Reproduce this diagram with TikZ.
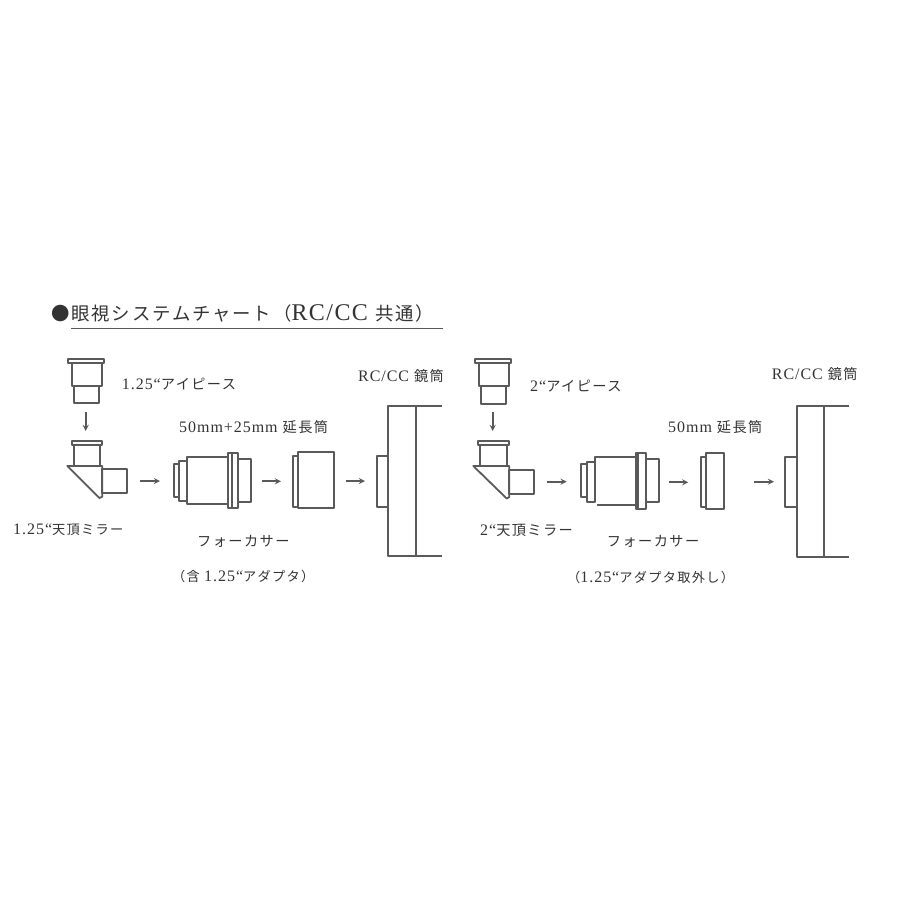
\documentclass[tikz,border=0pt]{standalone}
\usepackage{fontspec}
\setmainfont{Liberation Serif}[LetterSpace=6]
\newfontfamily\cjk{Noto Sans CJK JP}[LetterSpace=10]
\newcommand{\jp}[1]{{\fontsize{14.2}{16}\cjk #1}}
\newcommand{\jps}[1]{{\fontsize{13.2}{16}\cjk #1}}
\newcommand{\jpt}[1]{{\fontsize{18.4}{24}\cjk #1}}
\definecolor{inkgray}{HTML}{5A5A5A}
\definecolor{txtgray}{HTML}{333333}
\tikzset{
  part/.style={draw=inkgray, line width=1.8pt, line join=round},
  flow/.style={draw=inkgray, line width=1.7pt, -stealth},
  lbl/.style={anchor=west, inner sep=0pt, text=txtgray, font=\fontsize{16}{18}\selectfont},
  ttl/.style={anchor=west, inner sep=0pt, text=black!80, font=\fontsize{24}{28}\selectfont}
}
\begin{document}
\begin{tikzpicture}[x=1pt, y=-1pt]
\useasboundingbox (0,0) rectangle (900,900);

\node[ttl] (title) at (51,313) {\jpt{●眼視システムチャート（}RC/CC \jpt{共通）}};
\draw[line width=1pt, inkgray] (71,328) -- (443,328);

% left system
\draw[part] (68.3,359) rectangle (104,363.3);
\draw[part] (72.3,363.3) rectangle (101.7,386);
\draw[part] (74.3,386) rectangle (99,403);
\draw[part] (71.7,440.7) rectangle (102.3,445);
\draw[part] (74,445) rectangle (100,466);
\draw[part] (67.3,466) -- (102.3,466) -- (102.3,496.7) -- (99.3,498) -- cycle;
\draw[part] (102.3,469.3) rectangle (127.3,493.3);
% focuser
\draw[part] (174,464) rectangle (179.3,497.3);
\draw[part] (179.3,461) rectangle (187.3,500.7);
\draw[part] (187.3,456.7) rectangle (228.3,504.3);
\draw[part] (228.3,452.7) rectangle (238.3,508.3) (231.7,452.7) -- (231.7,508.3);
\draw[part] (238.3,459) rectangle (251,502.3);
% extension
\draw[part] (292.7,455.7) rectangle (298.3,506.7);
\draw[part] (298.3,452.3) rectangle (334.3,508.3);
% scope tube
\draw[part] (376.7,456) rectangle (388.3,506.7);
\begin{scope}[shift={(388.3,405.7)}]
\draw[part] (53.4,0) -- (0,0) -- (0,150) -- (53.4,150) (27.7,0) -- (27.7,150);
\end{scope}

% right system
\draw[part] (475,359) rectangle (511,363.3);
\draw[part] (479,363.3) rectangle (509,386);
\draw[part] (481,386) rectangle (506,404);
\draw[part] (478.3,441) rectangle (509,445.3);
\draw[part] (480,445.3) rectangle (506.7,466);
\draw[part] (473.3,466) -- (509.3,466) -- (509.3,497) -- (506.7,498.5) -- cycle;
\draw[part] (509.3,470) rectangle (534.3,494);
% focuser
\draw[part] (581,464) rectangle (587.3,497.3);
\draw[part] (587.3,461.7) rectangle (595,501.7);
\draw[part] (635.7,457.3) -- (595,457.3) -- (595,461.7) (596.7,505) -- (635.7,505);
\draw[part] (635.7,453.3) rectangle (646,509.3) (638,453.3) -- (638,509.3);
\draw[part] (646,459.3) rectangle (659,502.3);
% extension
\draw[part] (701,456.7) rectangle (706.3,506.7);
\draw[part] (706.3,452.7) rectangle (724,509);
% scope tube
\draw[part] (785,456.7) rectangle (796.7,507.3);
\begin{scope}[shift={(796.7,405.7)}]
\draw[part] (52.6,0) -- (0,0) -- (0,151) -- (52.6,151) (27.6,0) -- (27.6,151);
\end{scope}

\foreach \name/\xa/\ya/\xb/\yb in {
  la/85.7/412/85.7/431, lb/140/481/160/481, lc/261.7/481.3/281/481.3, ld/346/481/365/481,
  ra/492.7/412/492.7/431, rb/546.7/481.7/566.7/481.7, rc/669.3/482.3/688.3/482.3, rd/754/481.7/774/481.7}{
  \coordinate (\name s) at (\xa,\ya);
  \coordinate (\name e) at (\xb,\yb);
  \draw[flow] (\name s) -- (\name e);
}

\node[lbl] (leyepiece) at (121.7,384) {1.25“\jp{アイピース}};
\node[lbl] (ltube) at (358,376) {RC/CC \jp{鏡筒}};
\node[lbl] (lext) at (179,426.7) {50mm+25mm \jp{延長筒}};
\node[lbl] (lmirror) at (13,530) {1.25“\jps{天頂ミラー}};
\node[lbl] (lfocuser) at (197,541) {\jp{フォーカサー}};
\node[lbl] (lnote) at (172,576) {\jps{（含 }1.25“\jps{アダプタ）}};

\node[lbl] (reyepiece) at (530,385.7) {2“\jp{アイピース}};
\node[lbl] (rtube) at (771.7,374) {RC/CC \jp{鏡筒}};
\node[lbl] (rext) at (668,426.7) {50mm \jp{延長筒}};
\node[lbl] (rmirror) at (480,530.7) {2“\jp{天頂ミラー}};
\node[lbl] (rfocuser) at (606.7,541.7) {\jp{フォーカサー}};
\node[lbl] (rnote) at (567,577) {\jps{（}1.25“\jps{アダプタ取外し）}};
\end{tikzpicture}
\end{document}
